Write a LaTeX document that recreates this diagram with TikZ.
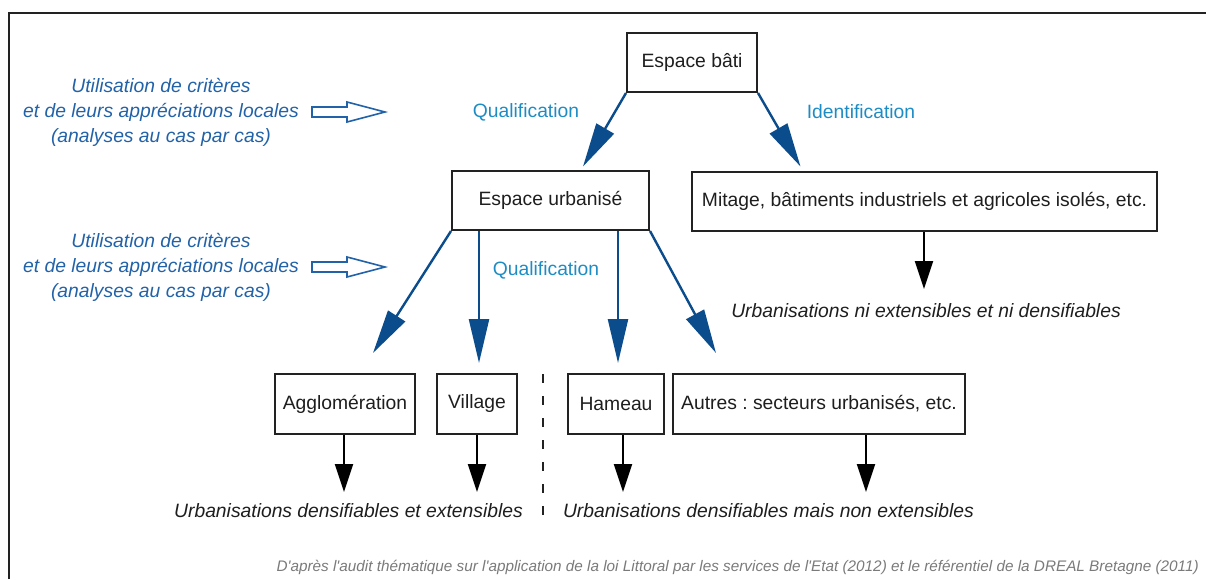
\documentclass[tikz,border=0pt]{standalone}
\usepackage{fontspec}
\setmainfont{Liberation Sans}
\newfontfamily\footfont{Liberation Sans}
\usetikzlibrary{arrows.meta}
\definecolor{arrowblue}{HTML}{0B4C8C}
\definecolor{labelblue}{HTML}{1E8CC4}
\definecolor{noteblue}{HTML}{2262A8}
\definecolor{boxline}{HTML}{222222}
\definecolor{inktext}{HTML}{1E1E1E}
\definecolor{foot}{HTML}{7A7A7A}
\frenchspacing
\begin{document}
\begin{tikzpicture}[x=1pt,y=-1pt,
  boxnode/.style={draw=boxline, line width=2pt, minimum height=59pt, inner sep=0pt, text=inktext, font=\fontsize{19.3}{23}\selectfont},
  qarrow/.style={draw=arrowblue, line width=2.4pt, -{Triangle[length=44pt,width=20pt]}},
  darrow/.style={draw=black, line width=2pt, -{Triangle[length=28pt,width=18pt]}},
  qlabel/.style={text=labelblue, inner sep=0pt, font=\fontsize{19.3}{23}\selectfont},
  notetext/.style={text=noteblue, inner sep=0pt, align=center, font=\fontsize{19.3}{25}\selectfont\itshape},
  result/.style={text=inktext, inner sep=0pt, font=\fontsize{19.3}{23}\selectfont\itshape},
  hollow/.style={draw=noteblue, line width=1.6pt, fill=white, line join=miter},
  frame/.style={draw=boxline, line width=2pt}
]
\useasboundingbox (0,0) rectangle (1206,579);
% frame
\draw[frame] (8.5,579) -- (8.5,12.5) -- (1206,12.5);

% boxes
\node[boxnode, minimum width=130pt] (bati) at (692,62.5) {Espace bâti};
\node[boxnode, minimum width=197pt] (urb) at (550.5,200.5) {Espace urbanisé};
\node[boxnode, minimum width=465pt] (mit) at (924.5,201) {Mitage, bâtiments industriels et agricoles isolés, etc.};
\node[boxnode, minimum width=140pt, minimum height=60pt] (agg) at (345,404) {Agglomération};
\node[boxnode, minimum width=80pt, minimum height=60pt] (vil) at (477,404) {Village};
\node[boxnode, minimum width=96pt, minimum height=60pt] (ham) at (616,404) {Hameau};
\node[boxnode, minimum width=292pt, minimum height=60pt] (aut) at (819,404) {Autres : secteurs urbanisés, etc.};

% labels
\node[qlabel] (q1) at (526,112) {Qualification};
\node[qlabel] (id) at (861,112) {Identification};
\node[qlabel] (q2) at (546,270.5) {Qualification};

% notes
\node[notetext] (n1) at (161,112) {Utilisation de critères\\et de leurs appréciations locales\\(analyses au cas par cas)};
\node[notetext] (n2) at (161,267) {Utilisation de critères\\et de leurs appréciations locales\\(analyses au cas par cas)};
\draw[hollow, shift={(312,112)}] (0,-5) -- (35,-5) -- (35,-10) -- (73,0) -- (35,10) -- (35,5) -- (0,5) -- cycle;
\draw[hollow, shift={(312,267)}] (0,-5) -- (35,-5) -- (35,-10) -- (73,0) -- (35,10) -- (35,5) -- (0,5) -- cycle;

% results
\node[result] (r1) at (926,311) {Urbanisations ni extensibles et ni densifiables};
\node[result] (r2) at (348.5,510.5) {Urbanisations densifiables et extensibles};
\node[result] (r3) at (768.5,510.5) {Urbanisations densifiables mais non extensibles};
\node[text=foot, anchor=east, inner sep=0pt, font=\footfont\fontsize{15.3}{17}\selectfont\itshape] (src) at (1199,567) {D'après l'audit thématique sur l'application de la loi Littoral par les services de l'Etat (2012) et le référentiel de la DREAL Bretagne (2011)};

% blue arrow tips
\coordinate (t1) at (583,166.5);
\coordinate (t2) at (800.5,166.5);
\coordinate (t3) at (373,353);
\coordinate (t4) at (479,363);
\coordinate (t5) at (618,363);
\coordinate (t6) at (716,353);
\draw[qarrow] (bati.south west) -- (t1);
\draw[qarrow] (bati.south east) -- (t2);
\draw[qarrow] (urb.south west) -- (t3);
\draw[qarrow] (urb.south -| t4) -- (t4);
\draw[qarrow] (urb.south -| t5) -- (t5);
\draw[qarrow] (urb.south east) -- (t6);

% black arrows
\coordinate (b0) at (924,289);
\coordinate (b1) at (344,492);
\coordinate (b2) at (477,492);
\coordinate (b3) at (623,492);
\coordinate (b4) at (866,492);
\draw[darrow] (mit.south -| b0) -- (b0);
\draw[darrow] (agg.south -| b1) -- (b1);
\draw[darrow] (vil.south -| b2) -- (b2);
\draw[darrow] (ham.south -| b3) -- (b3);
\draw[darrow] (aut.south -| b4) -- (b4);

% dashed separator
\coordinate (d1) at (543,374);
\coordinate (d2) at (543,524);
\draw[boxline, line width=2pt, dash pattern=on 9pt off 13pt] (d1) -- (d2);
\end{tikzpicture}
\end{document}
